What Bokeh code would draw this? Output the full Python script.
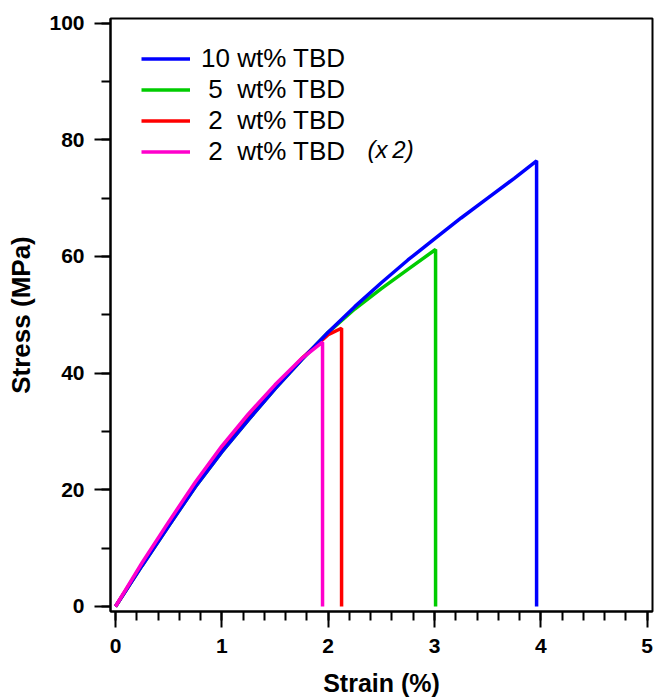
from bokeh.plotting import figure
from bokeh.models import (Range1d, SingleIntervalTicker, Legend, LegendItem, Label)
from bokeh.embed import file_html
from bokeh.resources import INLINE

# ---- data ----
x10 = [0, 0.25, 0.5, 0.75, 1.0, 1.25, 1.5, 1.75, 2.0, 2.25, 2.5, 2.75, 3.0, 3.25, 3.5, 3.75, 3.96, 3.96]
y10 = [0, 7.0, 13.8, 20.5, 26.5, 32.0, 37.3, 42.3, 47.0, 51.4, 55.5, 59.4, 63.0, 66.6, 70.0, 73.4, 76.4, 0]

x5 = [0, 0.25, 0.5, 0.75, 1.0, 1.25, 1.5, 1.75, 2.0, 2.25, 2.5, 2.75, 3.01, 3.01]
y5 = [0, 7.0, 13.8, 20.5, 26.5, 32.0, 37.3, 42.3, 47.0, 51.0, 54.5, 57.8, 61.2, 0]

x2 = [0, 0.25, 0.5, 0.75, 1.0, 1.25, 1.5, 1.75, 2.0, 2.126, 2.126]
y2 = [0, 7.2, 14.0, 20.8, 26.8, 32.3, 37.5, 42.5, 46.6, 47.7, 0]

x2b = [0, 0.25, 0.5, 0.75, 1.0, 1.25, 1.5, 1.75, 1.947, 1.947]
y2b = [0, 7.5, 14.5, 21.3, 27.5, 33.0, 38.0, 42.5, 45.3, 0]

labels = ["10 wt% TBD", "\u00a05\u00a0 wt% TBD", "\u00a02\u00a0 wt% TBD", "\u00a02\u00a0 wt% TBD"]
colors = ["#0000ff", "#00cc00", "#ff0000", "#ff00cc"]

x_ticks_interval = 1
y_ticks_interval = 20

p = figure(width=654, height=700, output_backend="svg", toolbar_location=None,
           x_range=Range1d(-0.047, 5.05), y_range=Range1d(-0.86, 100.8),
           min_border_left=110, min_border_right=2, min_border_top=18, min_border_bottom=89)

p.xgrid.visible = False
p.ygrid.visible = False
p.outline_line_color = "black"
p.outline_line_width = 2
p.outline_line_alpha = 1

lw = 3.5
r5 = p.line(x5, y5, line_color=colors[1], line_width=lw)
r2 = p.line(x2, y2, line_color=colors[2], line_width=lw)
r10 = p.line(x10, y10, line_color=colors[0], line_width=lw)
r2b = p.line(x2b, y2b, line_color=colors[3], line_width=lw)

p.xaxis.ticker = SingleIntervalTicker(interval=x_ticks_interval, num_minor_ticks=5)
p.yaxis.ticker = SingleIntervalTicker(interval=y_ticks_interval, num_minor_ticks=2)

for ax in (p.xaxis[0], p.yaxis[0]):
    ax.axis_line_width = 2
    ax.axis_line_color = "black"
    ax.major_tick_line_width = 2
    ax.minor_tick_line_width = 2
    ax.major_tick_out = 16
    ax.major_tick_in = 0
    ax.minor_tick_out = 9
    ax.minor_tick_in = 0
    ax.major_label_text_font = "Liberation Sans"
    ax.major_label_text_font_style = "bold"
    ax.major_label_text_font_size = "21px"
    ax.major_label_text_color = "black"
    ax.axis_label_text_font = "Liberation Sans"
    ax.axis_label_text_font_style = "bold"
    ax.axis_label_text_color = "black"

p.xaxis.axis_label = "Strain (%)"
p.yaxis.axis_label = "Stress (MPa)"
p.xaxis.axis_label_text_font_size = "25px"
p.yaxis.axis_label_text_font_size = "26px"
p.xaxis.major_label_standoff = 11
p.yaxis.major_label_standoff = 10
p.xaxis.axis_label_standoff = 13
p.yaxis.axis_label_standoff = 10

legend = Legend(items=[LegendItem(label=labels[0], renderers=[r10]),
                       LegendItem(label=labels[1], renderers=[r5]),
                       LegendItem(label=labels[2], renderers=[r2]),
                       LegendItem(label=labels[3], renderers=[r2b])],
                location=(31, 444), margin=0, padding=0, spacing=0,
                glyph_width=49, glyph_height=29, label_height=29,
                label_standoff=11, border_line_color=None, background_fill_alpha=0,
                label_text_font="Liberation Sans", label_text_font_size="26px",
                label_text_color="black")
p.add_layout(legend)

p.add_layout(Label(x=257, y=462, x_units="screen", y_units="screen", text="(x\u20092)",
                   text_font="Liberation Sans", text_font_style="italic",
                   text_font_size="24px", text_baseline="middle", text_color="black"))

open("out.html", "w").write(file_html(p, INLINE))
